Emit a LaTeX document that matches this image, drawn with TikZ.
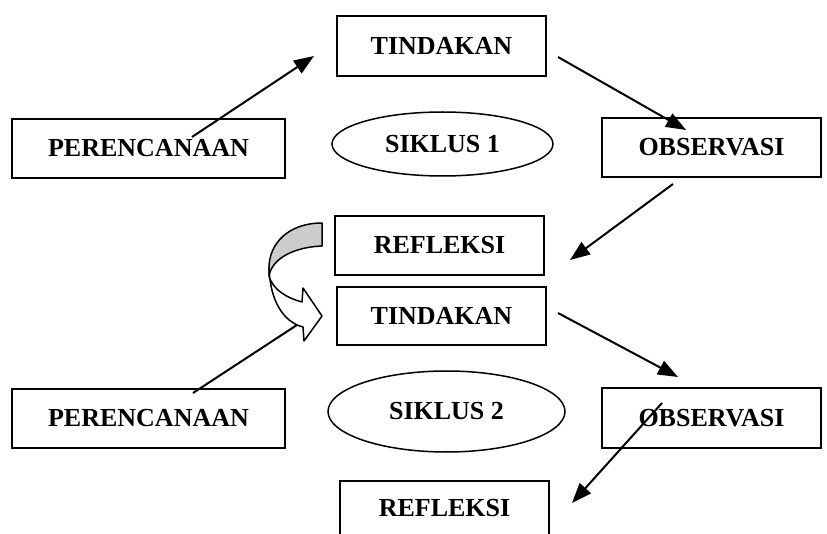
\documentclass[tikz,border=0pt]{standalone}
\usepackage{fontspec}
\setmainfont{Liberation Serif}
\usetikzlibrary{arrows.meta,shapes.geometric}
\tikzset{
  box/.style={draw, line width=1.6pt, inner sep=0pt, font=\fontsize{26}{30}\selectfont\bfseries},
  oval/.style={draw, ellipse, line width=1.5pt, inner sep=0pt, font=\fontsize{26}{30}\selectfont\bfseries},
  conn/.style={line width=2pt, -{Triangle[length=20pt,width=15pt]}},
  plainconn/.style={line width=2pt},
  ribbon/.style={draw, line width=1.5pt, line join=round}
}
\begin{document}
\begin{tikzpicture}[x=1pt,y=-1pt]
\useasboundingbox (0,0) rectangle (827,534);
\clip (0,0) rectangle (827,534);
\fill[white] (0,0) rectangle (827,534);

% boxes
\node[box, minimum width=209pt, minimum height=60pt] (tind1) at (441.5,46) {TINDAKAN};
\node[box, minimum width=273pt, minimum height=59pt] (per1) at (148.5,148.5) {PERENCANAAN};
\node[box, minimum width=219pt, minimum height=59pt] (obs1) at (711.5,147.5) {OBSERVASI};
\node[box, minimum width=209pt, minimum height=59pt] (ref1) at (439.5,245.5) {REFLEKSI};
\node[box, minimum width=209pt, minimum height=58pt] (tind2) at (441.5,316) {TINDAKAN};
\node[box, minimum width=273pt, minimum height=59pt] (per2) at (148.5,418.5) {PERENCANAAN};
\node[box, minimum width=219pt, minimum height=60pt] (obs2) at (711.5,418) {OBSERVASI};
\node[box, minimum width=209pt, minimum height=60pt, text height=18pt, text depth=0pt, anchor=north] (ref2) at (444.5,480) {};
\node[font=\fontsize{26}{30}\selectfont\bfseries, inner sep=0pt] (ref2t) at (444.5,508) {REFLEKSI};

% ellipses
\node[oval, minimum width=221pt, minimum height=64pt] (sik1) at (442.5,144) {SIKLUS 1};
\node[oval, minimum width=237pt, minimum height=81pt] (sik2) at (446.5,411.5) {SIKLUS 2};

% connector end points
\coordinate (a1s) at (192,137);
\coordinate (a1e) at (314,56);
\coordinate (a2s) at (558,57);
\coordinate (a2e) at (686,130);
\coordinate (a3s) at (673,184);
\coordinate (a3e) at (570,260);
\coordinate (a4s) at (193,393);
\coordinate (a4e) at (300,323);
\coordinate (a5s) at (558,313);
\coordinate (a5e) at (678,377);
\coordinate (a6s) at (662,403);
\coordinate (a6e) at (572,503);

\draw[conn] (a1s) -- (a1e);
\draw[conn] (a2s) -- (a2e);
\draw[conn] (a3s) -- (a3e);
\draw[plainconn] (a4s) -- (a4e);
\draw[conn] (a5s) -- (a5e);
\draw[conn] (a6s) -- (a6e);

% curved arrow (ribbon)
\draw[ribbon, fill=white] (269,268) .. controls (270,300) and (283,322) .. (303,327)
  -- (304,341) -- (322,316) -- (303,288) -- (302,302)
  .. controls (287,298) and (273,290) .. (269,276) -- cycle;
\draw[ribbon, fill=black!20] (322,223) .. controls (289,223) and (269,243) .. (269,268)
  -- (269,276) .. controls (272,258) and (295,247) .. (322,246) -- cycle;
\end{tikzpicture}
\end{document}
